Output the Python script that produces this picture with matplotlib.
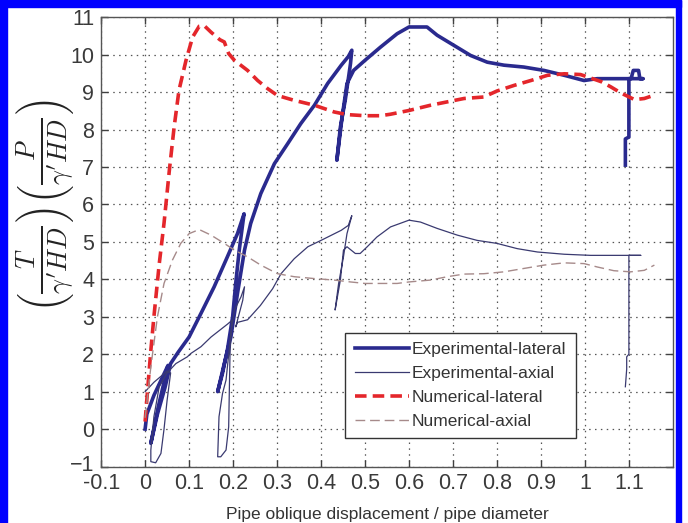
import matplotlib
matplotlib.use('Agg')
import matplotlib.pyplot as plt
import matplotlib.transforms as mtransforms
from matplotlib.patches import Rectangle

plt.rcParams['font.family'] = ['Liberation Sans Narrow', 'Liberation Sans', 'DejaVu Sans']
plt.rcParams['mathtext.fontset'] = 'cm'

# experimental lateral (thick blue)
exp_lat_x = [0.0, 0.004, 0.02, 0.04, 0.052, 0.03, 0.013, 0.028, 0.045, 0.058, 0.075, 0.1, 0.127,
             0.157, 0.187, 0.21, 0.225, 0.222, 0.214, 0.206, 0.199, 0.187, 0.176, 0.165, 0.18,
             0.195, 0.21, 0.226, 0.24, 0.263, 0.294, 0.324, 0.354, 0.385, 0.415, 0.446, 0.462,
             0.47, 0.467, 0.455, 0.444, 0.436, 0.448, 0.459, 0.474, 0.5, 0.535, 0.573, 0.6, 0.641,
             0.664, 0.702, 0.74, 0.778, 0.816, 0.861, 0.907, 0.953, 0.998, 1.028, 1.066, 1.105,
             1.11, 1.122, 1.125, 1.132, 1.1, 1.1, 1.092, 1.092]
exp_lat_y = [0.0, 0.4, 0.9, 1.4, 1.7, 0.6, -0.38, 0.4, 1.1, 1.75, 2.05, 2.46, 3.09, 3.8, 4.6,
             5.22, 5.75, 5.49, 4.78, 3.89, 3.0, 2.11, 1.49, 1.0, 1.75, 2.46, 3.62, 4.78, 5.49,
             6.29, 7.09, 7.62, 8.16, 8.65, 9.23, 9.72, 9.95, 10.12, 9.76, 8.78, 8.07, 7.18, 8.34,
             9.23, 9.58, 9.85, 10.2, 10.56, 10.74, 10.74, 10.52, 10.25, 9.98, 9.8, 9.72, 9.67,
             9.58, 9.45, 9.31, 9.36, 9.36, 9.36, 9.58, 9.58, 9.36, 9.36, 9.36, 7.8, 7.75, 7.05]

# experimental axial (thin navy)
exp_ax_x = [0.0, 0.02, 0.05, 0.058, 0.05, 0.043, 0.036, 0.024, 0.013, 0.013, 0.02, 0.032, 0.05,
            0.07, 0.096, 0.104, 0.127, 0.15, 0.187, 0.197, 0.193, 0.19, 0.184, 0.172, 0.165,
            0.168, 0.176, 0.184, 0.195, 0.203, 0.218, 0.226, 0.222, 0.206, 0.21, 0.233, 0.262,
            0.29, 0.309, 0.339, 0.37, 0.4, 0.446, 0.462, 0.47, 0.459, 0.451, 0.44, 0.432, 0.444,
            0.451, 0.459, 0.478, 0.489, 0.505, 0.527, 0.558, 0.6, 0.626, 0.664, 0.71, 0.755, 0.8,
            0.846, 0.892, 0.953, 1.013, 1.089, 1.127, 1.1, 1.1, 1.095, 1.095, 1.092]
exp_ax_y = [1.0, 1.25, 1.55, 1.5, 0.77, 0.0, -0.65, -0.9, -0.87, -0.56, 0.33, 1.13, 1.5, 1.75,
            1.93, 2.02, 2.2, 2.46, 2.8, 2.9, 2.0, 0.06, -0.56, -0.74, -0.74, 0.33, 0.95, 1.31,
            2.55, 3.18, 3.53, 3.8, 3.44, 2.73, 2.85, 2.92, 3.3, 3.75, 4.15, 4.55, 4.87, 5.04,
            5.31, 5.44, 5.7, 5.22, 4.6, 3.89, 3.18, 3.98, 4.78, 4.87, 4.69, 4.69, 4.87, 5.13,
            5.4, 5.58, 5.53, 5.36, 5.18, 5.04, 4.96, 4.82, 4.73, 4.67, 4.64, 4.64, 4.64, 4.64,
            2.0, 1.93, 1.6, 1.13]

# numerical lateral (thick red dashed)
num_lat_x = [0.0, 0.005, 0.013, 0.02, 0.032, 0.043, 0.055, 0.066, 0.077, 0.093, 0.108, 0.123,
             0.134, 0.15, 0.17, 0.18, 0.19, 0.203, 0.233, 0.256, 0.279, 0.301, 0.339, 0.385,
             0.43, 0.459, 0.5, 0.535, 0.558, 0.6, 0.649, 0.687, 0.725, 0.77, 0.8, 0.839, 0.877,
             0.915, 0.953, 0.99, 1.037, 1.059, 1.083, 1.113, 1.135, 1.158]
num_lat_y = [0.2, 0.95, 2.1, 3.0, 4.4, 5.5, 6.9, 8.07, 9.05, 9.85, 10.47, 10.76, 10.78, 10.6,
             10.4, 10.34, 10.03, 9.85, 9.58, 9.31, 9.09, 8.91, 8.78, 8.65, 8.47, 8.40, 8.37,
             8.37, 8.41, 8.51, 8.65, 8.74, 8.83, 8.87, 9.03, 9.18, 9.31, 9.45, 9.49, 9.47, 9.28,
             9.14, 8.97, 8.8, 8.83, 8.92]

# numerical axial (thin grey-brown dashed)
num_ax_x = [0.0, 0.013, 0.028, 0.043, 0.062, 0.081, 0.1, 0.123, 0.15, 0.18, 0.203, 0.233, 0.263,
            0.301, 0.339, 0.385, 0.43, 0.467, 0.5, 0.535, 0.573, 0.6, 0.649, 0.687, 0.725, 0.77,
            0.816, 0.861, 0.907, 0.953, 0.998, 1.028, 1.066, 1.104, 1.135, 1.158]
num_ax_y = [0.3, 1.66, 3.0, 3.89, 4.51, 4.96, 5.22, 5.33, 5.18, 4.96, 4.78, 4.6, 4.38, 4.15,
            4.07, 4.02, 3.98, 3.93, 3.89, 3.89, 3.89, 3.93, 3.98, 4.07, 4.14, 4.15, 4.2, 4.29,
            4.38, 4.44, 4.42, 4.33, 4.23, 4.2, 4.24, 4.38]

x_ticks = [-0.1, 0, 0.1, 0.2, 0.3, 0.4, 0.5, 0.6, 0.7, 0.8, 0.9, 1, 1.1]
x_labels = ['-0.1', '0', '0.1', '0.2', '0.3', '0.4', '0.5', '0.6', '0.7', '0.8', '0.9', '1', '1.1']
y_ticks = list(range(-1, 12))

fig = plt.figure(figsize=(6.88, 5.23), dpi=100)
ax = fig.add_axes([0.147, 0.108, 0.831, 0.859])

ax.plot(exp_lat_x, exp_lat_y, color='#2a2a8e', lw=2.6, label='Experimental-lateral')
ax.plot(exp_ax_x, exp_ax_y, color='#3a3a70', lw=0.9, label='Experimental-axial')
ax.plot(num_lat_x, num_lat_y, color='#e4262b', lw=2.6, ls=(0, (3.2, 1.7)),
        label='Numerical-lateral')
ax.plot(num_ax_x, num_ax_y, color='#a68a8a', lw=1.0, ls=(0, (7, 3.5)),
        label='Numerical-axial')

ax.set_xlim(-0.1, 1.2)
ax.set_ylim(-1, 11)
ax.set_xticks(x_ticks)
ax.set_xticklabels(x_labels)
ax.set_yticks(y_ticks)
ax.grid(True, ls=(0, (1.2, 3.5)), color='#555555', lw=0.9)
ax.tick_params(direction='in', top=True, right=True, length=5, width=1, color='#404040',
               labelsize=15.5, labelcolor='#3a3a3a', pad=5)
for s in ax.spines.values():
    s.set_color('#555555')
    s.set_linewidth(1.0)

# the "-1" label sits a little higher, as in the original
fig.canvas.draw()
lab = ax.get_yticklabels()[0]
lab.set_transform(lab.get_transform() + mtransforms.ScaledTranslation(0, 4 / 100, fig.dpi_scale_trans))

ax.set_xlabel('Pipe oblique displacement / pipe diameter', fontsize=12.5, color='#333333',
              labelpad=9)
fig.text(0.066, 0.606,
         r"$\left(\frac{T}{\gamma' HD}\right)\left(\frac{P}{\gamma' HD}\right)$",
         rotation=90, fontsize=27, ha='center', va='center', color='#222222')

leg = ax.legend(loc='upper left', bbox_to_anchor=(0.427, 0.298), borderaxespad=0,
                fontsize=12.5, handlelength=3.1, handletextpad=0.2, labelspacing=0.5,
                borderpad=0.55, fancybox=False, framealpha=1, edgecolor='#333333')
leg.get_frame().set_linewidth(1.0)
for t in leg.get_texts():
    t.set_color('#333333')

# blue frame round the figure
blue = '#0000ff'
fig.patches.append(Rectangle((0, 0), 7 / 688, 1, transform=fig.transFigure, color=blue))
fig.patches.append(Rectangle((0, 1 - 7 / 523), 681 / 688, 7 / 523, transform=fig.transFigure,
                             color=blue))
fig.patches.append(Rectangle((676 / 688, 0), 5 / 688, 1, transform=fig.transFigure, color=blue))

fig.savefig('out.png', dpi=100)
